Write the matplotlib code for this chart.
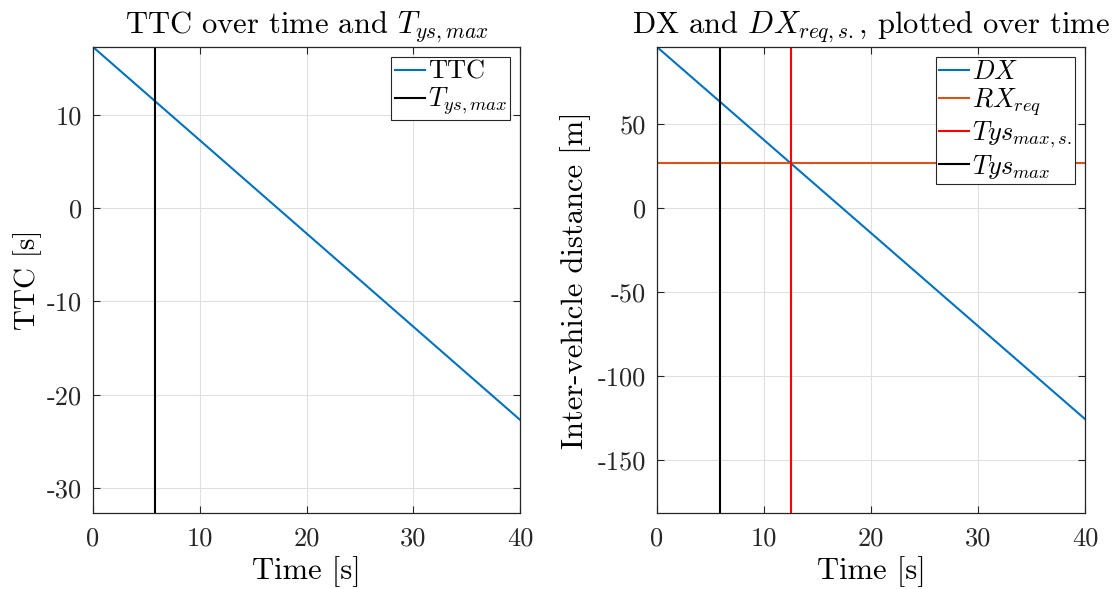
import matplotlib
matplotlib.use("Agg")
import matplotlib.pyplot as plt

# Time span and signals
time = [0, 40]
ttc = [17.3, -22.7]          # time-to-collision [s]
dx = [95.8, -125.6]          # inter-vehicle distance [m]
rx_req = 26.8                # required distance [m]
t_ys_max = 5.85              # T_ys,max [s]
t_ys_max_s = 12.5            # T_ys,max,s. [s]

xticks = [0, 10, 20, 30, 40]
ttc_ticks = [-30, -20, -10, 0, 10]
dx_ticks = [-150, -100, -50, 0, 50]

plt.rcParams.update({
    "font.family": "cmr10",
    "mathtext.fontset": "cm",
    "axes.unicode_minus": False,
    "axes.formatter.use_mathtext": False,
})

BLUE = "#0072BD"
ORANGE = "#D95319"
AX_C = "#262626"

fig = plt.figure(figsize=(11.12, 5.89), dpi=100)
W, H = 1112, 589
ax1 = fig.add_axes([93 / W, 1 - 513 / H, (520 - 93) / W, (513 - 47) / H])
ax2 = fig.add_axes([657 / W, 1 - 513 / H, (1085 - 657) / W, (513 - 47) / H])


def style(ax):
    ax.grid(True, color="#e0e0e0", linewidth=0.8)
    ax.set_axisbelow(True)
    for s in ax.spines.values():
        s.set_color(AX_C)
        s.set_linewidth(0.9)
    ax.tick_params(direction="in", top=True, right=True, length=5,
                   width=0.8, color=AX_C, labelsize=19, labelcolor="#262626")
    ax.tick_params(axis="x", pad=10)
    ax.tick_params(axis="y", pad=8)
    ax.set_xticks(xticks)


def legend(ax):
    leg = ax.legend(loc="upper right", fontsize=19, fancybox=False, framealpha=1,
                    edgecolor=AX_C, handlelength=1.15, handletextpad=0.1,
                    borderpad=0.12, labelspacing=0.08, borderaxespad=0.38)
    leg.get_frame().set_linewidth(0.8)
    return leg


LW = 1.5

# Left: TTC
ax1.plot(time, ttc, color=BLUE, lw=LW, label="TTC")
ax1.axvline(t_ys_max, color="black", lw=LW, label=r"$T_{ys,max}$")
ax1.set_xlim(0, 40)
ax1.set_ylim(-32.7, 17.3)
ax1.set_yticks(ttc_ticks)
style(ax1)
ax1.set_xlabel("Time [s]", fontsize=22, labelpad=4)
ax1.set_ylabel("TTC [s]", fontsize=21)
ax1.yaxis.set_label_coords(-51 / 427, 0.5)
ax1.set_title(r"TTC over time and $T_{ys,max}$", fontsize=22, pad=10)
legend(ax1)

# Right: distance
ax2.plot(time, dx, color=BLUE, lw=LW, label=r"$DX$")
ax2.axhline(rx_req, color=ORANGE, lw=LW, label=r"$RX_{req}$")
ax2.axvline(t_ys_max_s, color="#FF0000", lw=LW, label=r"$Tys_{max,s.}$")
ax2.axvline(t_ys_max, color="black", lw=LW, label=r"$Tys_{max}$")
ax2.set_xlim(0, 40)
ax2.set_ylim(-181.5, 95.8)
ax2.set_yticks(dx_ticks)
style(ax2)
ax2.set_xlabel("Time [s]", fontsize=22, labelpad=4)
ax2.set_ylabel("Inter-vehicle distance [m]", fontsize=22)
ax2.yaxis.set_label_coords(-66 / 428, 0.5)
ax2.set_title(r"DX and $DX_{req,s.}$, plotted over time", fontsize=22, pad=10)
legend(ax2)

fig.savefig("out.png", dpi=100, facecolor="white")
